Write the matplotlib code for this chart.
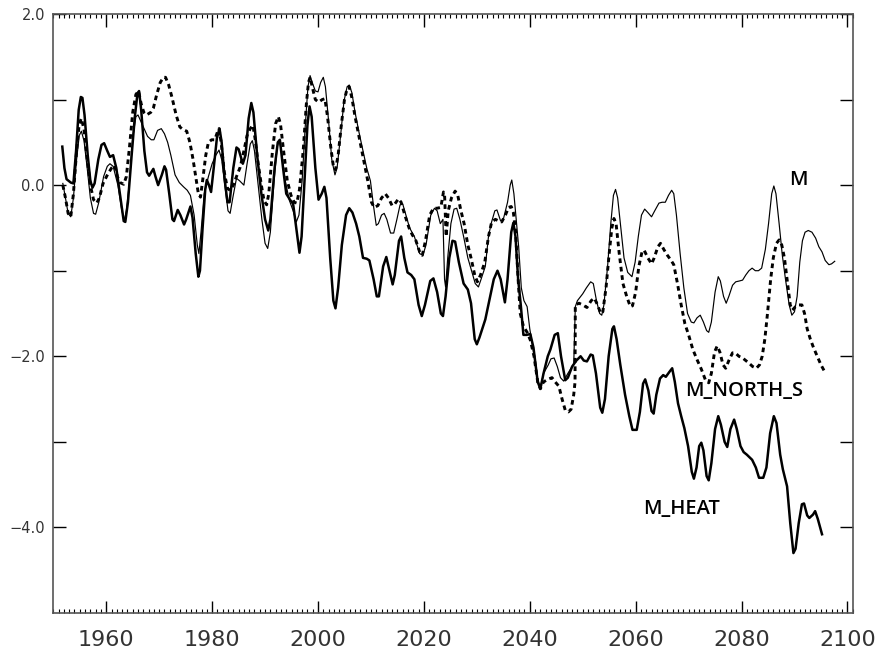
import matplotlib
matplotlib.use("Agg")
import matplotlib.pyplot as plt
from matplotlib.ticker import MultipleLocator, FixedLocator

# ---------------- data ----------------
heat_years = [1951.7, 1952.1, 1952.5, 1953.3, 1953.8, 1954.3, 1954.8, 1955.2, 1955.5, 1955.9,
              1956.5, 1957.0, 1957.4, 1957.8, 1958.5, 1959.1, 1959.6, 1960.2, 1960.7, 1961.3,
              1961.9, 1962.8, 1963.3, 1963.6, 1964.1, 1964.8, 1965.4, 1965.9, 1966.2, 1966.6,
              1967.2, 1967.7, 1968.1, 1968.9, 1969.3, 1969.8, 1970.5, 1971.0, 1971.3, 1971.9,
              1972.5, 1972.8, 1973.5, 1974.0, 1974.7, 1975.1, 1975.9, 1976.3, 1976.9, 1977.4,
              1977.7, 1978.2, 1978.7, 1979.0, 1979.4, 1979.8, 1980.3, 1980.9, 1981.4, 1981.8,
              1982.4, 1982.9, 1983.3, 1984.0, 1984.6, 1985.0, 1985.8, 1986.3, 1986.9, 1987.4,
              1987.8, 1988.5, 1989.3, 1990.0, 1990.6, 1991.0, 1991.8, 1992.4, 1992.8, 1993.4,
              1994.0, 1994.7, 1995.3, 1996.0, 1996.5, 1996.9, 1997.5, 1998.0, 1998.4, 1998.8,
              1999.5, 2000.1, 2000.7, 2001.2, 2001.6, 2002.3, 2002.9, 2003.3, 2003.8, 2004.5,
              2005.3, 2005.9, 2006.5, 2007.2, 2007.8, 2008.5, 2009.2, 2009.7, 2010.5, 2011.1,
              2011.5, 2012.3, 2012.9, 2013.5, 2014.1, 2014.5, 2015.3, 2015.7, 2016.3, 2016.9,
              2017.6, 2018.2, 2019.0, 2019.6, 2020.2, 2021.2, 2021.8, 2022.5, 2023.2, 2023.6,
              2024.1, 2024.8, 2025.4, 2025.9, 2026.6, 2027.5, 2028.3, 2028.9, 2029.6, 2030.0,
              2030.5, 2031.6, 2033.2, 2033.9, 2034.5, 2035.3, 2035.8, 2036.5, 2036.9, 2037.3,
              2037.8, 2038.3, 2038.8, 2039.4, 2040.1, 2040.7, 2041.5, 2042.0, 2042.6, 2043.4,
              2043.9, 2044.7, 2045.3, 2045.9, 2046.7, 2047.2, 2048.0, 2048.8, 2049.6, 2050.2,
              2050.8, 2051.5, 2051.9, 2052.5, 2053.3, 2053.7, 2054.2, 2054.9, 2055.6, 2055.9,
              2056.4, 2057.1, 2058.0, 2058.8, 2059.4, 2060.2, 2060.8, 2061.4, 2061.8, 2062.4,
              2063.0, 2063.4, 2063.9, 2064.6, 2065.2, 2065.7, 2066.4, 2066.9, 2067.4, 2068.0,
              2068.6, 2069.2, 2069.9, 2070.6, 2071.0, 2071.5, 2072.0, 2072.4, 2072.8, 2073.4,
              2073.8, 2074.3, 2075.0, 2075.6, 2076.1, 2076.8, 2077.3, 2077.9, 2078.6, 2079.1,
              2079.8, 2080.4, 2081.0, 2082.0, 2082.7, 2083.3, 2084.1, 2084.7, 2085.4, 2086.1,
              2086.6, 2087.3, 2087.8, 2088.6, 2089.2, 2089.8, 2090.2, 2090.8, 2091.4, 2091.8,
              2092.4, 2092.8, 2093.5, 2093.9, 2094.4, 2095.2]
heat_vals = [0.45, 0.20, 0.07, 0.03, 0.02, 0.40, 0.88, 1.03, 1.02, 0.82,
             0.35, 0.05, -0.03, 0.02, 0.30, 0.47, 0.49, 0.40, 0.33, 0.35,
             0.20, -0.20, -0.42, -0.43, -0.20, 0.35, 0.80, 1.07, 1.10, 0.88,
             0.40, 0.15, 0.11, 0.19, 0.10, 0.00, 0.12, 0.22, 0.18, -0.10,
             -0.40, -0.42, -0.29, -0.35, -0.46, -0.40, -0.25, -0.38, -0.80, -1.07,
             -1.00, -0.50, -0.05, 0.06, 0.00, -0.08, 0.20, 0.55, 0.66, 0.50,
             0.05, -0.20, -0.20, 0.20, 0.44, 0.42, 0.25, 0.35, 0.78, 0.96,
             0.85, 0.35, -0.10, -0.40, -0.53, -0.40, 0.20, 0.50, 0.53, 0.20,
             -0.10, -0.17, -0.22, -0.55, -0.79, -0.60, 0.10, 0.70, 0.92, 0.80,
             0.20, -0.17, -0.10, -0.02, -0.15, -0.85, -1.35, -1.44, -1.20, -0.70,
             -0.35, -0.27, -0.32, -0.45, -0.60, -0.85, -0.86, -0.88, -1.10, -1.30,
             -1.30, -0.95, -0.84, -1.00, -1.16, -1.05, -0.65, -0.60, -0.85, -1.02,
             -1.05, -1.10, -1.40, -1.53, -1.40, -1.12, -1.09, -1.25, -1.50, -1.53,
             -1.30, -0.85, -0.65, -0.66, -0.90, -1.15, -1.22, -1.38, -1.80, -1.86,
             -1.78, -1.57, -1.10, -1.00, -1.10, -1.37, -1.10, -0.55, -0.44, -0.60,
             -1.10, -1.40, -1.75, -1.75, -1.74, -1.90, -2.30, -2.38, -2.20, -2.00,
             -1.92, -1.75, -1.73, -2.00, -2.28, -2.25, -2.12, -2.05, -2.00, -2.05,
             -2.06, -1.98, -1.99, -2.20, -2.60, -2.66, -2.50, -2.00, -1.68, -1.65,
             -1.80, -2.10, -2.45, -2.70, -2.86, -2.86, -2.65, -2.32, -2.27, -2.40,
             -2.64, -2.67, -2.45, -2.26, -2.22, -2.24, -2.18, -2.14, -2.30, -2.55,
             -2.70, -2.84, -3.05, -3.35, -3.43, -3.30, -3.05, -3.01, -3.10, -3.40,
             -3.45, -3.25, -2.85, -2.70, -2.80, -3.00, -3.06, -2.85, -2.74, -2.85,
             -3.05, -3.12, -3.15, -3.21, -3.30, -3.42, -3.42, -3.30, -2.90, -2.70,
             -2.78, -3.15, -3.32, -3.52, -3.95, -4.30, -4.25, -3.95, -3.73, -3.72,
             -3.86, -3.89, -3.85, -3.81, -3.90, -4.08]

m_years = [1951.8, 1952.3, 1952.8, 1953.3, 1953.8, 1954.4, 1954.9, 1955.3, 1955.8, 1956.4,
           1957.0, 1957.6, 1958.0, 1958.6, 1959.5, 1960.2, 1960.7, 1961.3, 1962.2, 1962.9,
           1963.4, 1963.8, 1964.4, 1965.0, 1965.6, 1966.0, 1966.5, 1967.0, 1967.8, 1968.5,
           1969.0, 1969.7, 1970.4, 1971.0, 1971.6, 1972.2, 1973.0, 1973.8, 1974.6, 1975.3,
           1975.9, 1976.6, 1977.2, 1977.5, 1977.9, 1978.5, 1979.3, 1980.0, 1980.7, 1981.3,
           1981.8, 1982.5, 1983.0, 1983.4, 1983.9, 1984.6, 1985.2, 1986.0, 1986.6, 1987.2,
           1987.6, 1988.0, 1988.7, 1989.4, 1990.0, 1990.5, 1991.0, 1991.7, 1992.3, 1992.7,
           1993.2, 1993.8, 1994.6, 1995.3, 1995.9, 1996.4, 1997.0, 1997.6, 1998.1, 1998.5,
           1998.9, 1999.5, 2000.0, 2000.5, 2001.0, 2001.4, 2002.0, 2002.6, 2003.2, 2003.6,
           2004.3, 2004.9, 2005.5, 2005.9, 2006.4, 2007.0, 2007.8, 2008.5, 2009.2, 2009.9,
           2010.5, 2011.0, 2011.4, 2012.0, 2012.5, 2013.0, 2013.7, 2014.3, 2014.9, 2015.5,
           2016.0, 2016.6, 2017.3, 2018.2, 2019.2, 2019.8, 2020.4, 2021.3, 2022.0, 2022.5,
           2023.1, 2023.6, 2023.9, 2024.1, 2024.5, 2025.1, 2025.7, 2026.2, 2026.8, 2027.5,
           2028.3, 2029.0, 2029.7, 2030.3, 2030.8, 2031.6, 2032.2, 2032.7, 2033.4, 2033.8,
           2034.5, 2035.0, 2035.8, 2036.3, 2036.6, 2037.0, 2037.5, 2037.9, 2038.4, 2038.9,
           2039.5, 2040.0, 2040.6, 2041.4, 2042.0, 2042.6, 2043.5, 2044.0, 2044.6, 2045.2,
           2045.8, 2046.4, 2047.2, 2048.0, 2048.3, 2048.6, 2049.0, 2050.0, 2050.7, 2051.5,
           2052.0, 2052.6, 2053.2, 2053.6, 2054.0, 2054.7, 2055.3, 2055.8, 2056.2, 2056.6,
           2057.2, 2057.8, 2058.5, 2059.3, 2059.9, 2060.5, 2061.1, 2061.7, 2062.3, 2063.0,
           2063.6, 2064.4, 2065.0, 2065.6, 2066.2, 2066.8, 2067.2, 2067.7, 2068.4, 2069.1,
           2069.8, 2070.5, 2071.0, 2071.6, 2072.2, 2072.8, 2073.4, 2073.8, 2074.3, 2075.0,
           2075.6, 2076.0, 2076.6, 2077.1, 2077.6, 2078.3, 2078.9, 2079.6, 2080.2, 2080.8,
           2081.4, 2082.0, 2082.6, 2083.2, 2083.8, 2084.5, 2085.1, 2085.7, 2086.1, 2086.5,
           2087.1, 2087.7, 2088.3, 2089.0, 2089.5, 2090.0, 2090.5, 2091.0, 2091.5, 2092.0,
           2092.6, 2093.3, 2094.0, 2094.6, 2095.2, 2095.8, 2096.5, 2097.0, 2097.6]
m_vals = [0.02, -0.15, -0.33, -0.37, -0.15, 0.30, 0.58, 0.63, 0.52, 0.20,
          -0.15, -0.33, -0.34, -0.20, 0.10, 0.22, 0.25, 0.22, 0.00, -0.28,
          -0.42, -0.30, 0.05, 0.55, 0.80, 0.82, 0.75, 0.68, 0.57, 0.53,
          0.53, 0.64, 0.66, 0.60, 0.50, 0.35, 0.12, 0.03, -0.02, -0.06,
          -0.12, -0.35, -0.70, -0.80, -0.55, -0.10, 0.10, 0.25, 0.35, 0.41,
          0.30, -0.05, -0.30, -0.33, -0.15, 0.08, 0.05, 0.00, 0.25, 0.48,
          0.52, 0.40, 0.00, -0.40, -0.68, -0.74, -0.55, 0.05, 0.45, 0.53,
          0.35, 0.05, -0.18, -0.30, -0.43, -0.35, 0.05, 0.70, 1.15, 1.28,
          1.20, 1.10, 1.09, 1.20, 1.26, 1.15, 0.75, 0.30, 0.12, 0.20,
          0.60, 0.98, 1.15, 1.17, 1.08, 0.85, 0.60, 0.40, 0.20, 0.05,
          -0.25, -0.47, -0.45, -0.35, -0.33, -0.40, -0.56, -0.56, -0.40, -0.23,
          -0.22, -0.35, -0.50, -0.60, -0.80, -0.82, -0.70, -0.35, -0.27, -0.30,
          -0.45, -0.40, -1.10, -1.19, -0.85, -0.45, -0.28, -0.27, -0.40, -0.60,
          -0.85, -1.00, -1.15, -1.19, -1.10, -0.95, -0.60, -0.45, -0.30, -0.29,
          -0.42, -0.40, -0.20, 0.00, 0.06, -0.10, -0.45, -0.72, -1.20, -1.35,
          -1.42, -1.68, -1.90, -2.25, -2.37, -2.20, -2.10, -2.03, -2.02, -2.12,
          -2.25, -2.29, -2.20, -2.12, -2.10, -1.42, -1.35, -1.27, -1.20, -1.13,
          -1.15, -1.35, -1.50, -1.52, -1.40, -0.95, -0.45, -0.12, -0.05, -0.15,
          -0.50, -0.85, -1.02, -1.07, -0.90, -0.60, -0.35, -0.28, -0.32, -0.37,
          -0.30, -0.21, -0.20, -0.20, -0.12, -0.06, -0.10, -0.35, -0.80, -1.20,
          -1.50, -1.60, -1.61, -1.55, -1.52, -1.60, -1.70, -1.72, -1.60, -1.25,
          -1.07, -1.12, -1.30, -1.38, -1.30, -1.17, -1.13, -1.12, -1.11, -1.05,
          -1.00, -0.97, -1.00, -1.00, -0.97, -0.75, -0.45, -0.10, -0.01, -0.10,
          -0.45, -0.82, -1.10, -1.40, -1.52, -1.48, -1.30, -0.90, -0.65, -0.55,
          -0.53, -0.55, -0.62, -0.72, -0.78, -0.88, -0.93, -0.92, -0.89]

ns_years = [1951.8, 1952.3, 1952.8, 1953.3, 1953.8, 1954.4, 1954.9, 1955.3, 1955.8, 1956.4,
            1957.0, 1957.6, 1958.2, 1958.7, 1959.4, 1960.3, 1961.0, 1961.6, 1962.1, 1962.6,
            1963.3, 1963.8, 1964.4, 1965.0, 1965.6, 1966.1, 1966.6, 1967.1, 1967.6, 1968.4,
            1968.9, 1969.5, 1970.2, 1970.8, 1971.2, 1971.8, 1972.4, 1973.2, 1973.9, 1974.5,
            1975.2, 1975.8, 1976.4, 1976.9, 1977.4, 1977.8, 1978.2, 1978.8, 1979.3, 1979.9,
            1980.5, 1981.0, 1981.3, 1981.7, 1982.3, 1982.9, 1983.4, 1984.0, 1984.6, 1985.3,
            1986.0, 1986.6, 1987.2, 1987.7, 1988.1, 1988.7, 1989.3, 1989.8, 1990.3, 1990.7,
            1991.4, 1992.0, 1992.5, 1992.9, 1993.5, 1994.2, 1994.9, 1995.5, 1996.0, 1996.5,
            1997.2, 1997.8, 1998.2, 1998.5, 1998.9, 1999.5, 2000.1, 2000.8, 2001.3, 2001.8,
            2002.4, 2002.9, 2003.3, 2003.8, 2004.4, 2005.0, 2005.5, 2005.9, 2006.4, 2007.0,
            2007.8, 2008.6, 2009.4, 2010.1, 2010.6, 2011.3, 2012.0, 2012.7, 2013.3, 2014.0,
            2014.5, 2015.2, 2015.7, 2016.4, 2017.2, 2017.8, 2018.5, 2019.2, 2019.7, 2020.3,
            2021.1, 2021.8, 2022.5, 2023.2, 2023.7, 2023.9, 2024.2, 2024.6, 2025.2, 2025.9,
            2026.4, 2027.0, 2027.6, 2028.3, 2028.9, 2029.6, 2030.1, 2030.7, 2031.5, 2032.2,
            2032.8, 2033.5, 2034.2, 2034.7, 2035.4, 2036.0, 2036.5, 2036.9, 2037.3, 2037.8,
            2038.2, 2038.8, 2039.5, 2040.1, 2040.8, 2041.5, 2042.0, 2042.6, 2043.4, 2044.2,
            2044.8, 2045.5, 2046.1, 2046.7, 2047.3, 2047.8, 2048.3, 2048.55, 2048.6, 2049.3,
            2050.0, 2050.8, 2051.6, 2052.2, 2052.8, 2053.4, 2053.8, 2054.4, 2055.0, 2055.5,
            2055.9, 2056.3, 2056.9, 2057.6, 2058.3, 2059.0, 2059.4, 2060.0, 2060.6, 2061.2,
            2061.6, 2062.3, 2063.0, 2063.5, 2064.2, 2064.7, 2065.3, 2066.0, 2066.7, 2067.2,
            2067.9, 2068.6, 2069.3, 2070.0, 2070.8, 2071.6, 2072.4, 2073.2, 2073.8, 2074.3,
            2074.9, 2075.4, 2075.9, 2076.5, 2077.0, 2077.6, 2078.3, 2078.8, 2079.5, 2080.2,
            2080.8, 2081.4, 2082.1, 2082.8, 2083.4, 2083.9, 2084.4, 2084.9, 2085.5, 2086.0,
            2086.6, 2087.1, 2087.6, 2088.1, 2088.6, 2089.2, 2089.6, 2090.2, 2090.8, 2091.4,
            2091.9, 2092.4, 2093.0, 2093.6, 2094.3, 2095.0, 2095.7]
ns_vals = [0.00, -0.15, -0.33, -0.37, -0.10, 0.40, 0.72, 0.78, 0.65, 0.30,
           0.00, -0.17, -0.21, -0.15, 0.02, 0.13, 0.20, 0.23, 0.10, 0.03,
           0.01, 0.10, 0.45, 0.85, 1.06, 1.10, 0.95, 0.85, 0.82, 0.85,
           0.90, 1.05, 1.20, 1.26, 1.26, 1.17, 1.03, 0.82, 0.68, 0.65,
           0.63, 0.50, 0.30, 0.10, -0.10, -0.14, 0.05, 0.35, 0.50, 0.53,
           0.53, 0.62, 0.66, 0.50, 0.15, -0.04, -0.06, 0.00, 0.10, 0.21,
           0.40, 0.58, 0.66, 0.70, 0.55, 0.25, 0.00, -0.18, -0.23, -0.10,
           0.40, 0.72, 0.80, 0.72, 0.40, 0.05, -0.12, -0.20, -0.21, -0.05,
           0.40, 0.95, 1.20, 1.26, 1.15, 1.00, 0.97, 1.00, 1.01, 0.80,
           0.45, 0.22, 0.18, 0.35, 0.70, 1.00, 1.13, 1.15, 1.02, 0.80,
           0.55, 0.30, 0.05, -0.20, -0.26, -0.24, -0.15, -0.10, -0.15, -0.24,
           -0.22, -0.16, -0.20, -0.35, -0.50, -0.58, -0.65, -0.78, -0.82, -0.65,
           -0.35, -0.27, -0.27, -0.26, -0.08, -0.10, -0.60, -0.30, -0.15, -0.07,
           -0.12, -0.30, -0.45, -0.70, -0.85, -1.05, -1.13, -1.05, -0.90, -0.60,
           -0.43, -0.40, -0.42, -0.43, -0.35, -0.26, -0.25, -0.32, -0.52, -1.10,
           -1.50, -1.65, -1.72, -1.81, -2.00, -2.30, -2.38, -2.30, -2.27, -2.25,
           -2.30, -2.35, -2.50, -2.63, -2.65, -2.62, -2.45, -2.30, -1.40, -1.38,
           -1.40, -1.43, -1.35, -1.32, -1.40, -1.50, -1.48, -1.20, -0.80, -0.50,
           -0.39, -0.45, -0.80, -1.15, -1.30, -1.42, -1.41, -1.25, -0.95, -0.78,
           -0.76, -0.85, -0.92, -0.85, -0.72, -0.68, -0.75, -0.82, -0.88, -0.93,
           -1.15, -1.40, -1.62, -1.75, -1.92, -2.04, -2.15, -2.28, -2.31, -2.20,
           -1.95, -1.88, -1.95, -2.10, -2.14, -2.05, -1.96, -1.96, -2.00, -2.02,
           -2.05, -2.08, -2.12, -2.14, -2.10, -2.00, -1.80, -1.50, -1.10, -0.85,
           -0.68, -0.64, -0.70, -0.85, -1.10, -1.40, -1.46, -1.42, -1.40, -1.40,
           -1.50, -1.68, -1.80, -1.90, -2.00, -2.10, -2.18]

x_ticks = [1960, 1980, 2000, 2020, 2040, 2060, 2080, 2100]
y_ticks = [2.0, 1.0, 0.0, -1.0, -2.0, -3.0, -4.0]
y_labels = ["2.0", "", "0.0", "", "\u22122.0", "", "\u22124.0"]

labels = ["M", "M_NORTH_S", "M_HEAT"]
label_pos = [(2088.9, 0.06), (2069.4, -2.41), (2061.5, -3.79)]

# ---------------- figure ----------------
fig = plt.figure(figsize=(8.81, 6.57), dpi=100)
ax = fig.add_axes([0.0605, 0.0670, 0.9074, 0.9117])

ax.plot(m_years, m_vals, color="black", lw=0.85, zorder=2,
        solid_joinstyle="round")
ax.plot(ns_years, ns_vals, color="black", lw=2.1, linestyle=(0, (1.6, 1.3)),
        zorder=3, dash_joinstyle="round")
ax.plot(heat_years, heat_vals, color="black", lw=1.8, zorder=4,
        solid_joinstyle="round")

ax.set_xlim(1950, 2101)
ax.set_ylim(-5, 2)

ax.xaxis.set_major_locator(FixedLocator(x_ticks))
ax.xaxis.set_minor_locator(MultipleLocator(1))
ax.yaxis.set_major_locator(FixedLocator(y_ticks))
ax.set_yticklabels(y_labels)

ax.tick_params(axis="x", which="major", direction="in", length=9, width=1.0,
               top=True, bottom=True, labelsize=16, pad=12, labelcolor="#333333")
ax.tick_params(axis="x", which="minor", direction="in", length=3, width=0.8,
               top=True, bottom=True)
ax.tick_params(axis="y", which="major", direction="in", length=9.5, width=1.0,
               left=True, right=True, labelsize=10.5, pad=6, labelcolor="#333333")

for s in ax.spines.values():
    s.set_color("#555555")
    s.set_linewidth(1.2)

for t, (px, py) in zip(labels, label_pos):
    ax.text(px, py, t, fontsize=14.5, family="Open Sans", fontweight="semibold",
            ha="left", va="center", color="black")

fig.savefig("out.png", dpi=100)
